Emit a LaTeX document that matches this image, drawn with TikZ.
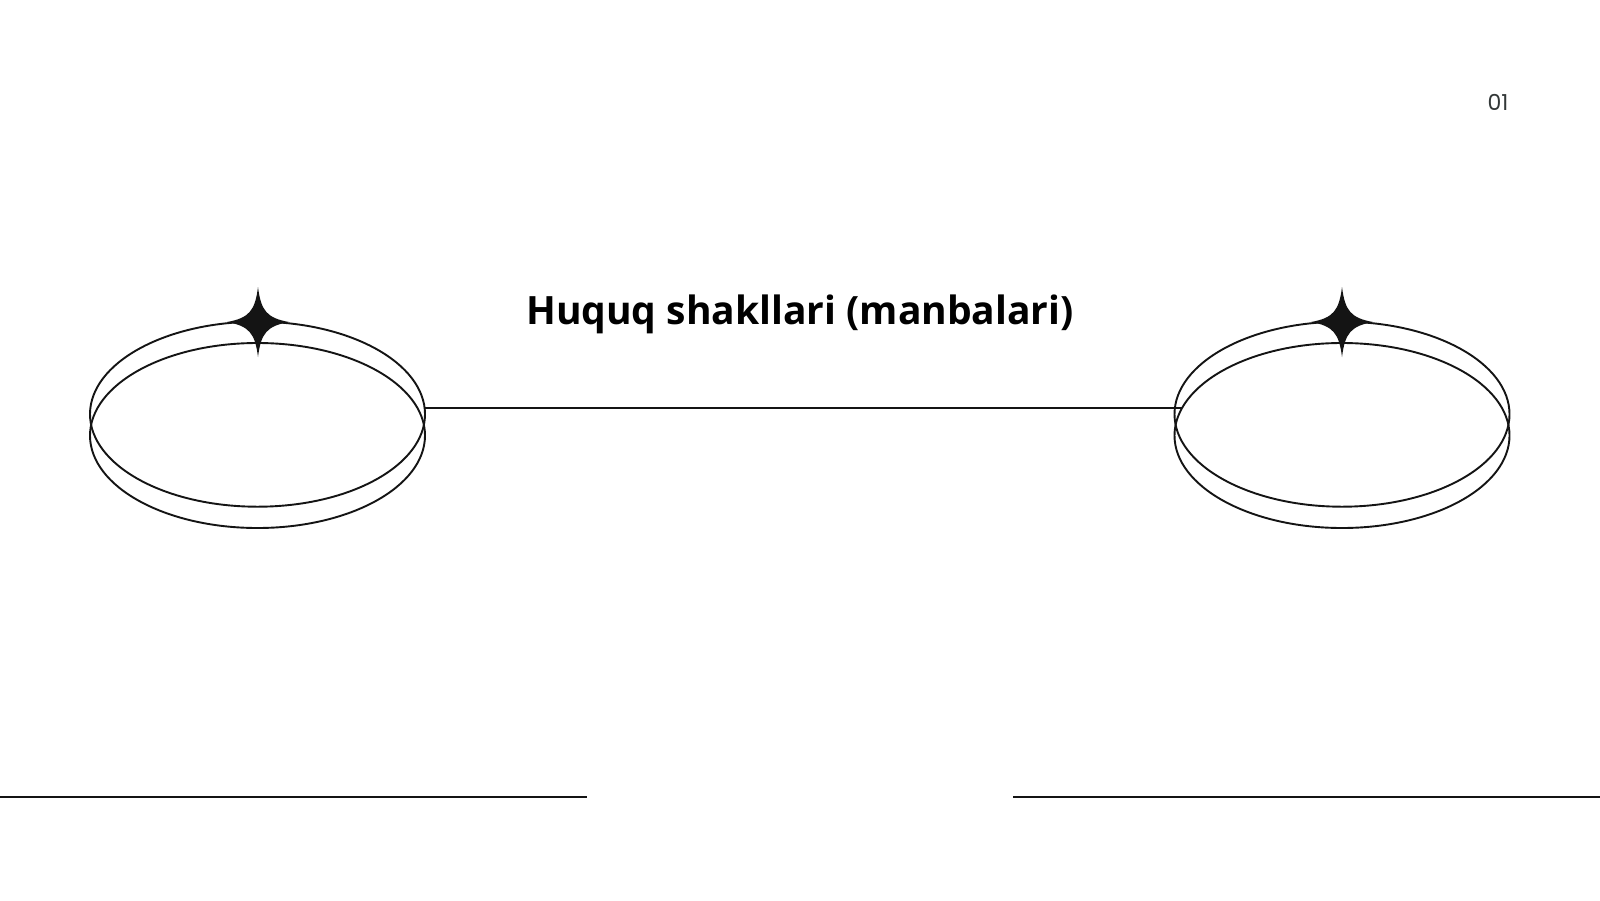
\documentclass[tikz,border=0pt]{standalone}
\usepackage{fontspec}
\setmainfont{Open Sans}
\newfontfamily\numfont{Poppins}
\usetikzlibrary{shapes.geometric}

\definecolor{inkcolor}{rgb}{0.08, 0.08, 0.08}
\definecolor{pagenumcolor}{rgb}{0.2, 0.22, 0.22}

\tikzset{
  ring/.style={draw=inkcolor, ellipse, line width=1.9pt, outer sep=0pt, inner sep=0pt,
    minimum width=335pt, minimum height=185pt},
  rule/.style={draw=inkcolor, line width=1.9pt},
  sparkle/.pic={
    \fill[inkcolor] (0,-35) .. controls (3,-11) and (9,-4) .. (31,0)
      .. controls (9,4) and (3,11) .. (0,35)
      .. controls (-3,11) and (-9,4) .. (-31,0)
      .. controls (-9,-4) and (-3,-11) .. (0,-35) -- cycle;
  }
}

\begin{document}
\begin{tikzpicture}[x=1pt, y=-1pt]
\useasboundingbox (0,0) rectangle (1600,900);
\fill[white] (0,0) rectangle (1600,900);

% page number
\node[text=pagenumcolor, font=\numfont\fontsize{22}{26}\selectfont] (pagenum) at (1498,102) {01};

% title
\node[font=\fontsize{39}{46}\selectfont\bfseries] (title) at (800,314) {Huquq shakllari (manbalari)};

% left rings
\node[ring] (lefttop) at (257.5,414.2) {};
\node[ring] (leftbot) at (257.5,435.5) {};
\pic at (258,322) {sparkle};

% right rings
\node[ring] (righttop) at (1342,414.2) {};
\node[ring] (rightbot) at (1342,435.5) {};
\pic at (1342,322) {sparkle};

% connector
\draw[rule] (lefttop.2) -- (lefttop.2 -| rightbot.170);

% bottom rules
\coordinate (bl0) at (0,797);
\coordinate (bl1) at (587,797);
\coordinate (br0) at (1013,797);
\coordinate (br1) at (1600,797);
\draw[rule] (bl0) -- (bl1);
\draw[rule] (br0) -- (br1);
\end{tikzpicture}
\end{document}
